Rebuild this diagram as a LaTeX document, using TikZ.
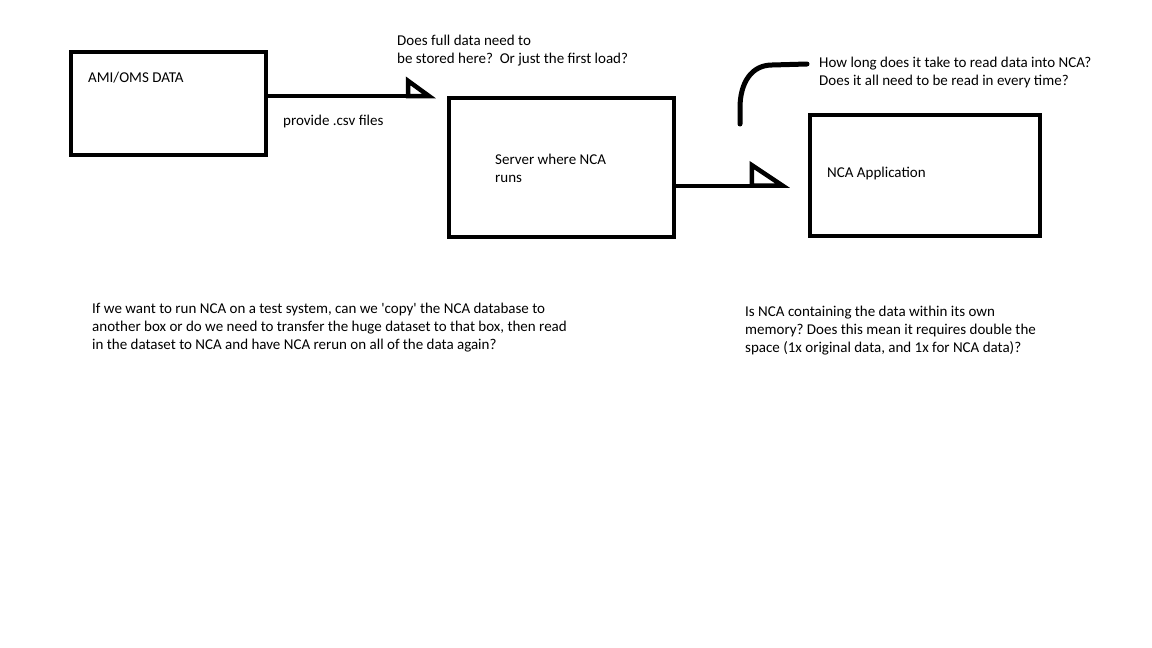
\documentclass[tikz,border=0pt]{standalone}
\usepackage{fontspec}
\setmainfont{Carlito}
\usetikzlibrary{arrows.meta}
\frenchspacing

\begin{document}
\begin{tikzpicture}[
    x=1pt, y=-1pt,
    box/.style={draw, line width=4pt, inner sep=0pt},
    note/.style={anchor=base west, inner sep=0pt, align=left, font=\fontsize{15}{18}\selectfont},
    link/.style={line width=4pt}
]
\useasboundingbox (0,0) rectangle (1152,648);

% the three boxes
\node[box, minimum width=195pt, minimum height=103pt] (ami) at (168.5,103.5) {};
\node[box, minimum width=225pt, minimum height=139pt] (server) at (561.5,167.5) {};
\node[box, minimum width=230pt, minimum height=121pt] (app) at (925,175.5) {};

\node[note] (amitext) at (88,82) {AMI/OMS DATA};
\node[note] (servertext) at (495,182) {Server where NCA\\runs};
\node[note] (apptext) at (827,177) {NCA Application};

% arrows
\draw[link, shorten >=11pt, -{Triangle[open, harpoon, left, length=27pt, width=38pt, line width=4.5pt]}]
    (ami.east |- server.north) -- (server.north west);
\draw[link, shorten >=18pt, -{Triangle[open, harpoon, left, length=37pt, width=48pt, line width=4.5pt]}]
    ([yshift=-18pt]server.east) -- ([yshift=-18pt]server.east -| app.west);

\node[note] (csv) at (283,125) {provide .csv files};
\node[note] (stored) at (397,63) {Does full data need to\\be stored here?\ \ Or just the first load?};
\node[note] (readtime) at (819,85) {How long does it take to read data into NCA?\\Does it all need to be read in every time?};

% hand drawn pointer to the question
\coordinate (pointfoot) at (740,124);
\coordinate (pointtop) at (807,64);
\draw[line width=5pt, line cap=round, line join=round]
    (pointfoot) -- (740,108) .. controls (740,82) and (752,65) .. (772,65) -- (pointtop);

% questions below
\node[note] (testsys) at (92,349) {If we want to run NCA on a test system, can we \textquotesingle copy\textquotesingle{} the NCA database to\\another box or do we need to transfer the huge dataset to that box, then read\\in the dataset to NCA and have NCA rerun on all of the data again?};
\node[note] (memory) at (745,352) {Is NCA containing the data within its own\\memory? Does this mean it requires double the\\space (1x original data, and 1x for NCA data)?};

\end{tikzpicture}
\end{document}
